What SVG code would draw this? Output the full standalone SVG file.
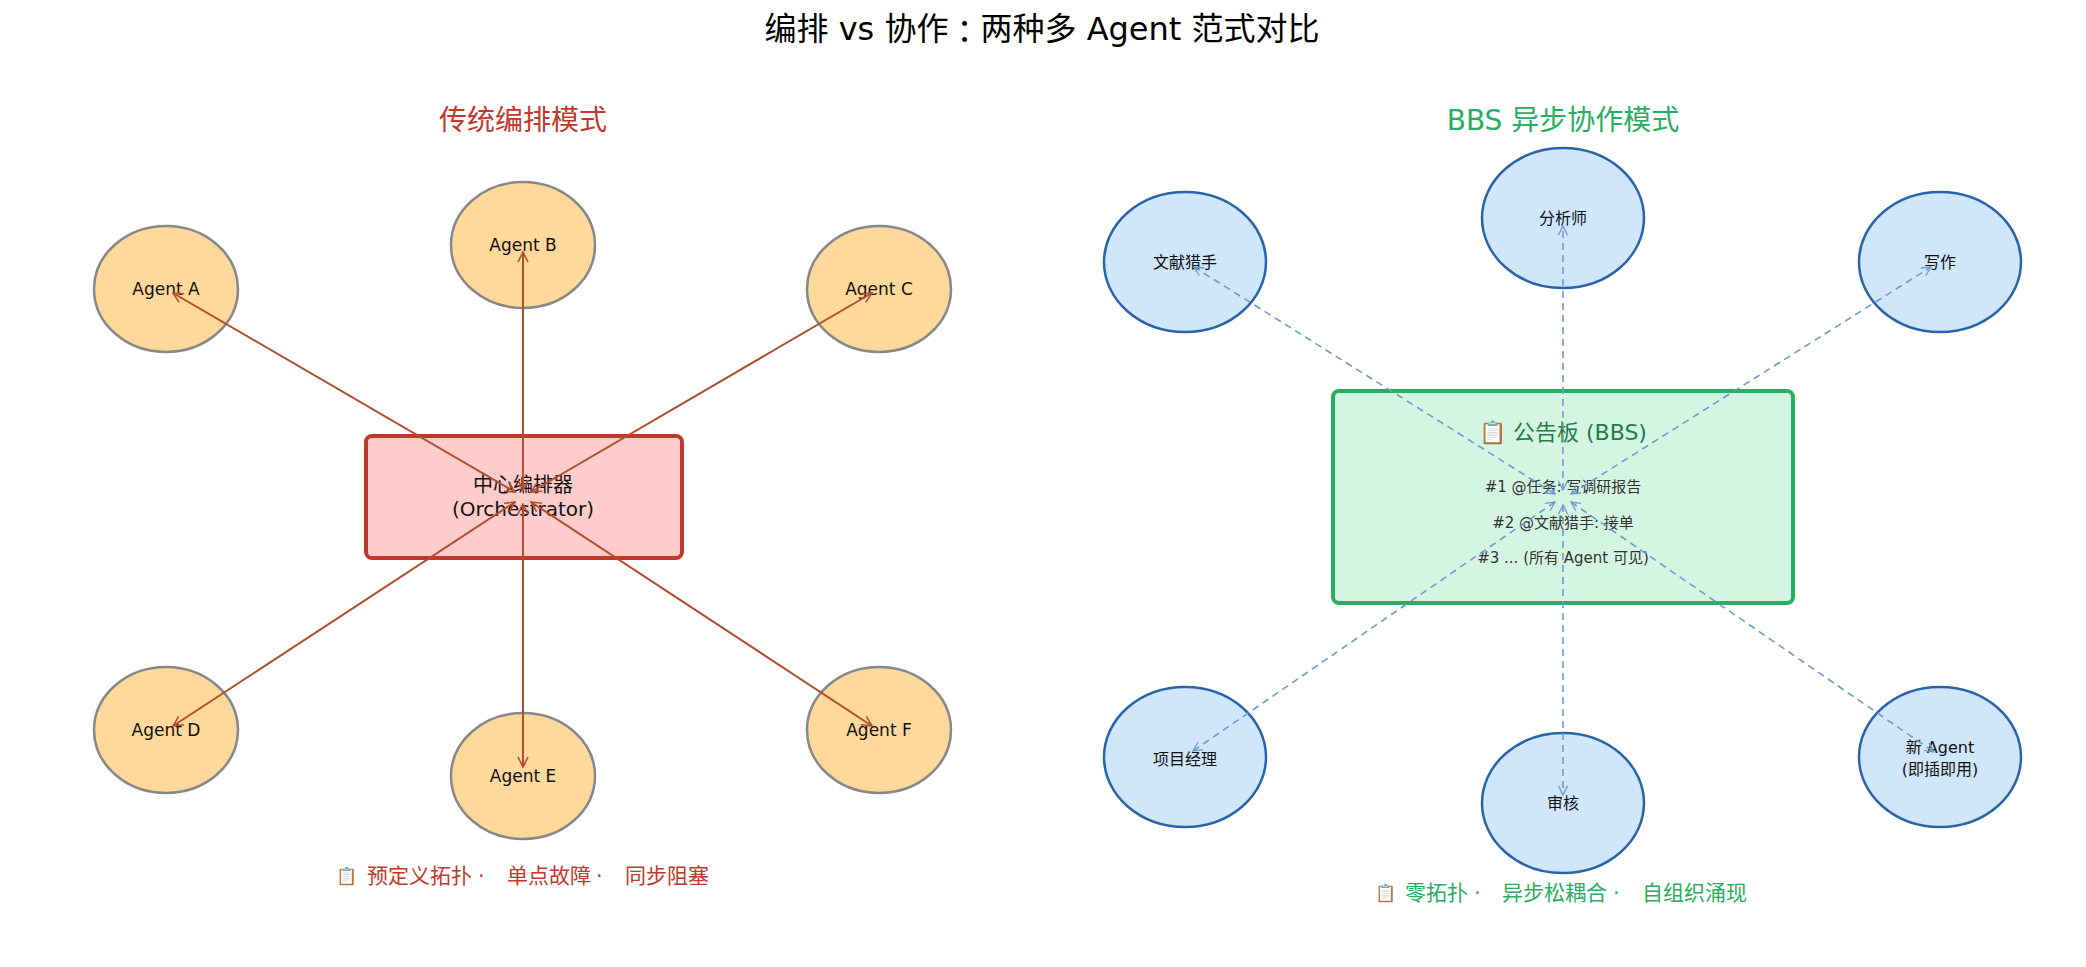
<svg xmlns="http://www.w3.org/2000/svg" width="2086" height="967" viewBox="0 0 2086 967">
<defs>
<style>
text{font-family:"DejaVu Sans","Noto Sans CJK SC",sans-serif;text-anchor:middle;dominant-baseline:central}
.title{font-size:32px;fill:#000}
.sub{font-size:28px}
.agentL{fill:#ffd89b;stroke:#888;stroke-width:2.5}
.agentR{fill:#d0e6fb;stroke:#2a64a8;stroke-width:2.5}
.lbl{font-size:17px;fill:#111}
.lblR{font-size:16px;fill:#111}
.lnL{stroke:#b0502f;stroke-width:2;fill:none;marker-start:url(#aL);marker-end:url(#aL)}
.lnR{stroke:#6d9ccf;stroke-width:1.6;fill:none;stroke-dasharray:7,5;marker-start:url(#aR);marker-end:url(#aR)}
.bbs{font-size:15px;fill:#333}
.foot{font-size:21px;text-anchor:start}
.ico{font-size:17px}
</style>
<marker id="aL" viewBox="0 0 12 12" refX="11" refY="6" markerWidth="12" markerHeight="12" markerUnits="userSpaceOnUse" orient="auto-start-reverse"><path d="M1,1 L11,6 L1,11" fill="none" stroke="#b0502f" stroke-width="1.6"/></marker>
<marker id="aR" viewBox="0 0 12 12" refX="11" refY="6" markerWidth="11" markerHeight="11" markerUnits="userSpaceOnUse" orient="auto-start-reverse"><path d="M1,1 L11,6 L1,11" fill="none" stroke="#6d9ccf" stroke-width="1.4"/></marker>
</defs>
<rect width="2086" height="967" fill="#fff"/>
<text class="title" x="1042" y="29">编排 vs 协作<tspan font-family="Noto Sans CJK TC">：</tspan>两种多 Agent 范式对比</text>
<text class="sub" x="523" y="120" fill="#c0392b">传统编排模式</text>
<text class="sub" x="1563" y="120" fill="#27ae60">BBS 异步协作模式</text>

<g id="nodes-left">
<g id="orch"><rect x="366" y="436" width="316" height="122" rx="6" fill="#ffcccc" stroke="#c0392b" stroke-width="4"/>
<text x="523" y="485" font-size="20" fill="#111">中心编排器</text><text x="523" y="509" font-size="20" fill="#111">(Orchestrator)</text></g>
<g id="agentA"><ellipse class="agentL" cx="166" cy="289" rx="72" ry="63"/><text class="lbl" x="166" y="289">Agent A</text></g>
<g id="agentB"><ellipse class="agentL" cx="523" cy="245" rx="72" ry="63"/><text class="lbl" x="523" y="245">Agent B</text></g>
<g id="agentC"><ellipse class="agentL" cx="879" cy="289" rx="72" ry="63"/><text class="lbl" x="879" y="289">Agent C</text></g>
<g id="agentD"><ellipse class="agentL" cx="166" cy="730" rx="72" ry="63"/><text class="lbl" x="166" y="730">Agent D</text></g>
<g id="agentE"><ellipse class="agentL" cx="523" cy="776" rx="72" ry="63"/><text class="lbl" x="523" y="776">Agent E</text></g>
<g id="agentF"><ellipse class="agentL" cx="879" cy="730" rx="72" ry="63"/><text class="lbl" x="879" y="730">Agent F</text></g>
</g>

<g id="nodes-right">
<g id="bbs"><rect x="1333" y="391" width="460" height="212" rx="6" fill="#d5f5e3" stroke="#27ae60" stroke-width="4"/>
<text x="1563" y="432" font-size="22" fill="#1e7e45">📋 公告板 (BBS)</text>
<text class="bbs" x="1563" y="487">#1 @任务: 写调研报告</text>
<text class="bbs" x="1563" y="523">#2 @文献猎手: 接单</text>
<text class="bbs" x="1563" y="558">#3 ... (所有 Agent 可见)</text></g>
<g id="n1"><ellipse class="agentR" cx="1185" cy="262" rx="81" ry="70"/><text class="lblR" x="1185" y="262">文献猎手</text></g>
<g id="n2"><ellipse class="agentR" cx="1563" cy="218" rx="81" ry="70"/><text class="lblR" x="1563" y="218">分析师</text></g>
<g id="n3"><ellipse class="agentR" cx="1940" cy="262" rx="81" ry="70"/><text class="lblR" x="1940" y="262">写作</text></g>
<g id="n4"><ellipse class="agentR" cx="1185" cy="757" rx="81" ry="70"/><text class="lblR" x="1185" y="759">项目经理</text></g>
<g id="n5"><ellipse class="agentR" cx="1563" cy="803" rx="81" ry="70"/><text class="lblR" x="1563" y="803">审核</text></g>
<g id="n6"><ellipse class="agentR" cx="1940" cy="757" rx="81" ry="70"/><text class="lblR" x="1940" y="747">新 Agent</text><text class="lblR" x="1940" y="769">(即插即用)</text></g>
</g>

<g id="connectors">
<line class="lnL" x1="515" y1="492" x2="173" y2="293"/>
<line class="lnL" x1="523" y1="490" x2="523" y2="252"/>
<line class="lnL" x1="531" y1="492" x2="872" y2="293"/>
<line class="lnL" x1="515" y1="502" x2="173" y2="726"/>
<line class="lnL" x1="523" y1="504" x2="523" y2="767"/>
<line class="lnL" x1="531" y1="502" x2="872" y2="726"/>
<line class="lnR" x1="1555" y1="494" x2="1194" y2="267"/>
<line class="lnR" x1="1563" y1="490" x2="1563" y2="226"/>
<line class="lnR" x1="1571" y1="494" x2="1931" y2="267"/>
<line class="lnR" x1="1555" y1="502" x2="1193" y2="751"/>
<line class="lnR" x1="1563" y1="505" x2="1563" y2="795"/>
<line class="lnR" x1="1571" y1="502" x2="1934" y2="752"/>
</g>

<text class="foot" y="876" fill="#c0392b"><tspan class="ico" x="336">📋</tspan><tspan x="367">预定义拓扑</tspan><tspan x="478">·</tspan><tspan x="507">单点故障</tspan><tspan x="596">·</tspan><tspan x="625">同步阻塞</tspan></text>
<text class="foot" y="893" fill="#27ae60"><tspan class="ico" x="1375">📋</tspan><tspan x="1405">零拓扑</tspan><tspan x="1474">·</tspan><tspan x="1502">异步松耦合</tspan><tspan x="1613">·</tspan><tspan x="1642">自组织涌现</tspan></text>
</svg>
